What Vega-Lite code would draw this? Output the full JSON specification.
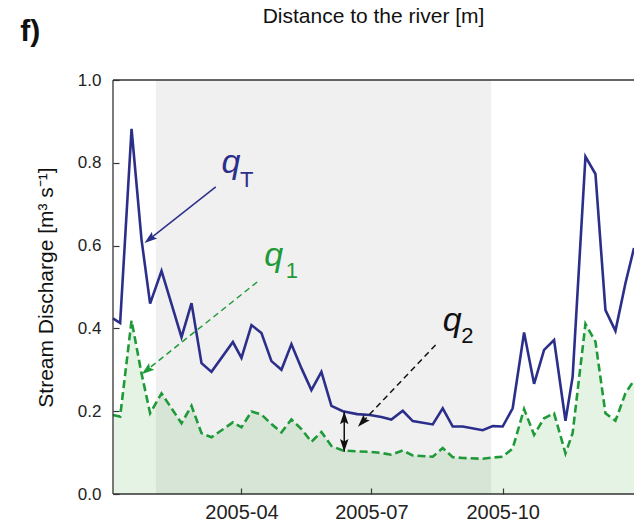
{
"$schema":"https://vega.github.io/schema/vega-lite/v6.json",
"width":521,"height":414,
"autosize":{"type":"none"},
"padding":{"left":113,"top":80,"right":0,"bottom":29},
"background":"white",
"title":{"text":"Distance to the river [m]","anchor":"middle","frame":"group","offset":-10,"fontSize":21,"fontWeight":"normal","font":"Liberation Sans","color":"#111111"},
"config":{"view":{"stroke":null},"axis":{"labelFont":"Liberation Sans","titleFont":"Liberation Sans","labelColor":"#222222","titleColor":"#111111","domain":false,"tickColor":"#333333","grid":false,"titleFontWeight":"normal","tickWidth":1.2}},
"datasets":{
"q":[
{"date":"2005-01-01","series":"qT","v":0.424},{"date":"2005-01-06","series":"qT","v":0.413},{"date":"2005-01-14","series":"qT","v":0.882},{"date":"2005-01-21","series":"qT","v":0.614},
{"date":"2005-01-27","series":"qT","v":0.460},{"date":"2005-02-04","series":"qT","v":0.539},{"date":"2005-02-18","series":"qT","v":0.379},{"date":"2005-02-25","series":"qT","v":0.461},
{"date":"2005-03-04","series":"qT","v":0.316},{"date":"2005-03-11","series":"qT","v":0.295},{"date":"2005-03-26","series":"qT","v":0.367},{"date":"2005-04-01","series":"qT","v":0.329},
{"date":"2005-04-08","series":"qT","v":0.408},{"date":"2005-04-15","series":"qT","v":0.389},{"date":"2005-04-22","series":"qT","v":0.321},{"date":"2005-04-29","series":"qT","v":0.300},
{"date":"2005-05-06","series":"qT","v":0.362},{"date":"2005-05-13","series":"qT","v":0.304},{"date":"2005-05-20","series":"qT","v":0.251},{"date":"2005-05-27","series":"qT","v":0.295},
{"date":"2005-06-03","series":"qT","v":0.213},{"date":"2005-06-11","series":"qT","v":0.200},{"date":"2005-06-21","series":"qT","v":0.193},{"date":"2005-06-30","series":"qT","v":0.191},
{"date":"2005-07-08","series":"qT","v":0.186},{"date":"2005-07-15","series":"qT","v":0.180},{"date":"2005-07-23","series":"qT","v":0.201},{"date":"2005-07-30","series":"qT","v":0.176},
{"date":"2005-08-13","series":"qT","v":0.168},{"date":"2005-08-20","series":"qT","v":0.207},{"date":"2005-08-27","series":"qT","v":0.163},{"date":"2005-09-03","series":"qT","v":0.163},
{"date":"2005-09-17","series":"qT","v":0.154},{"date":"2005-09-24","series":"qT","v":0.164},{"date":"2005-10-01","series":"qT","v":0.163},{"date":"2005-10-08","series":"qT","v":0.207},
{"date":"2005-10-16","series":"qT","v":0.390},{"date":"2005-10-23","series":"qT","v":0.266},{"date":"2005-10-30","series":"qT","v":0.348},{"date":"2005-11-06","series":"qT","v":0.372},
{"date":"2005-11-14","series":"qT","v":0.177},{"date":"2005-11-19","series":"qT","v":0.283},{"date":"2005-11-28","series":"qT","v":0.815},{"date":"2005-12-05","series":"qT","v":0.773},
{"date":"2005-12-12","series":"qT","v":0.444},{"date":"2005-12-19","series":"qT","v":0.394},{"date":"2005-12-26","series":"qT","v":0.509},{"date":"2006-01-01","series":"qT","v":0.594},
{"date":"2005-01-01","series":"q1","v":0.191},{"date":"2005-01-06","series":"q1","v":0.187},{"date":"2005-01-14","series":"q1","v":0.419},{"date":"2005-01-21","series":"q1","v":0.291},
{"date":"2005-01-27","series":"q1","v":0.195},{"date":"2005-02-04","series":"q1","v":0.243},{"date":"2005-02-18","series":"q1","v":0.171},{"date":"2005-02-25","series":"q1","v":0.213},
{"date":"2005-03-04","series":"q1","v":0.147},{"date":"2005-03-11","series":"q1","v":0.137},{"date":"2005-03-26","series":"q1","v":0.173},{"date":"2005-04-01","series":"q1","v":0.161},
{"date":"2005-04-08","series":"q1","v":0.199},{"date":"2005-04-15","series":"q1","v":0.192},{"date":"2005-04-22","series":"q1","v":0.169},{"date":"2005-04-29","series":"q1","v":0.149},
{"date":"2005-05-06","series":"q1","v":0.180},{"date":"2005-05-13","series":"q1","v":0.157},{"date":"2005-05-20","series":"q1","v":0.126},{"date":"2005-05-27","series":"q1","v":0.150},
{"date":"2005-06-03","series":"q1","v":0.116},{"date":"2005-06-11","series":"q1","v":0.105},{"date":"2005-06-21","series":"q1","v":0.103},{"date":"2005-06-30","series":"q1","v":0.102},
{"date":"2005-07-08","series":"q1","v":0.099},{"date":"2005-07-15","series":"q1","v":0.095},{"date":"2005-07-23","series":"q1","v":0.105},{"date":"2005-07-30","series":"q1","v":0.093},
{"date":"2005-08-13","series":"q1","v":0.090},{"date":"2005-08-20","series":"q1","v":0.111},{"date":"2005-08-27","series":"q1","v":0.089},{"date":"2005-09-03","series":"q1","v":0.087},
{"date":"2005-09-17","series":"q1","v":0.085},{"date":"2005-09-24","series":"q1","v":0.088},{"date":"2005-10-01","series":"q1","v":0.090},{"date":"2005-10-08","series":"q1","v":0.110},
{"date":"2005-10-16","series":"q1","v":0.205},{"date":"2005-10-23","series":"q1","v":0.143},{"date":"2005-10-30","series":"q1","v":0.183},{"date":"2005-11-06","series":"q1","v":0.195},
{"date":"2005-11-14","series":"q1","v":0.098},{"date":"2005-11-19","series":"q1","v":0.147},{"date":"2005-11-28","series":"q1","v":0.411},{"date":"2005-12-05","series":"q1","v":0.368},
{"date":"2005-12-12","series":"q1","v":0.195},{"date":"2005-12-19","series":"q1","v":0.177},{"date":"2005-12-26","series":"q1","v":0.243},{"date":"2006-01-01","series":"q1","v":0.275}
],
"band":[{"date":"2005-01-31","date2":"2005-09-23","v":0,"v2":1}],
"frame":[{"date":"2005-01-01","date2":"2006-01-01","v":1,"v2":1},{"date":"2005-01-01","date2":"2006-01-01","v":0,"v2":0},{"date":"2005-01-01","date2":"2005-01-01","v":0,"v2":1}],
"panel":[{"label":"f)","date":"2004-10-28","v":1.094}],
"arrowsSolid":[{"series":"qT","date":"2005-03-14","v":0.742,"date2":"2005-01-27","v2":0.617}],
"arrowsDashed":[{"series":"q1","date":"2005-04-12","v":0.512,"date2":"2005-01-25","v2":0.300},{"series":"q2","date":"2005-08-15","v":0.360,"date2":"2005-06-25","v2":0.175}],
"heads232":[{"series":"qT","date":"2005-01-27","v":0.617},{"series":"q1","date":"2005-01-25","v":0.300}],
"heads223":[{"series":"q2","date":"2005-06-25","v":0.175}],
"dbl":[{"date":"2005-06-12","v":0.199,"v2":0.102}],
"headUp":[{"date":"2005-06-12","v":0.182}],
"headDown":[{"date":"2005-06-12","v":0.119}],
"annQ":[{"series":"qT","date":"2005-03-18","v":0.775},{"series":"q1","date":"2005-04-17","v":0.551},{"series":"q2","date":"2005-08-20","v":0.394}],
"annSub":[{"series":"qT","text":"T","date":"2005-03-31","v":0.742},{"series":"q1","text":"1","date":"2005-05-02","v":0.522},{"series":"q2","text":"2","date":"2005-09-02","v":0.365}]
},
"encoding":{
 "x":{"field":"date","type":"temporal","scale":{"type":"utc","domain":[{"year":2005,"month":1,"date":1,"utc":true},{"year":2006,"month":1,"date":1,"utc":true}]},
      "axis":{"title":null,"format":"%Y-%m","values":[{"year":2005,"month":4,"date":1,"utc":true},{"year":2005,"month":7,"date":1,"utc":true},{"year":2005,"month":10,"date":1,"utc":true}],"offset":-6,"tickSize":6,"labelPadding":8,"labelFontSize":20}},
 "y":{"field":"v","type":"quantitative","scale":{"domain":[0,1]},
      "axis":{"title":"Stream Discharge [m³ s⁻¹]","titleFontSize":21,"labelFontSize":17,"values":[0,0.2,0.4,0.6,0.8,1.0],"format":".1f","offset":-6,"tickSize":6,"labelPadding":12,"titlePadding":21}}
},
"layer":[
{"data":{"name":"band"},"mark":{"type":"rect","color":"#000000","opacity":0.06},
 "encoding":{"x2":{"field":"date2"},"y2":{"field":"v2"}}},
{"data":{"name":"q"},"transform":[{"filter":"datum.series === 'q1'"}],"mark":{"type":"area","color":"#2ca02c","opacity":0.12}},
{"data":{"name":"q"},"transform":[{"filter":"datum.series === 'qT'"}],"mark":{"type":"line","color":"#2c2f8a","strokeWidth":2.6}},
{"data":{"name":"q"},"transform":[{"filter":"datum.series === 'q1'"}],"mark":{"type":"line","color":"#1f9a38","strokeWidth":2.6,"strokeDash":[8,4]}},
{"data":{"name":"frame"},"mark":{"type":"rule","color":"#333333","strokeWidth":1.3},
 "encoding":{"x2":{"field":"date2"},"y2":{"field":"v2"}}},
{"data":{"name":"panel"},"mark":{"type":"text","font":"Liberation Sans","fontSize":30,"fontWeight":"bold","align":"left","baseline":"alphabetic","color":"#111111"},
 "encoding":{"text":{"field":"label"}}},
{"data":{"name":"arrowsSolid"},"mark":{"type":"rule","strokeWidth":1.5},
 "encoding":{"x2":{"field":"date2"},"y2":{"field":"v2"},
  "color":{"field":"series","type":"nominal","scale":{"domain":["qT","q1","q2"],"range":["#2c2f8a","#1f9a38","#111111"]},"legend":null}}},
{"data":{"name":"arrowsDashed"},"mark":{"type":"rule","strokeWidth":1.5,"strokeDash":[6,4]},
 "encoding":{"x2":{"field":"date2"},"y2":{"field":"v2"},"color":{"field":"series","type":"nominal","legend":null}}},
{"data":{"name":"heads232"},"mark":{"type":"point","shape":"M0,-1L0.6,0.8L0,0.45L-0.6,0.8Z","filled":true,"opacity":1,"size":200,"angle":232},
 "encoding":{"color":{"field":"series","type":"nominal","legend":null}}},
{"data":{"name":"heads223"},"mark":{"type":"point","shape":"M0,-1L0.6,0.8L0,0.45L-0.6,0.8Z","filled":true,"opacity":1,"size":200,"angle":223.5},
 "encoding":{"color":{"field":"series","type":"nominal","legend":null}}},
{"data":{"name":"dbl"},"mark":{"type":"rule","strokeWidth":1.5,"color":"#111111"},
 "encoding":{"y2":{"field":"v2"}}},
{"data":{"name":"headUp"},"mark":{"type":"point","shape":"M0,-1L0.6,0.8L0,0.45L-0.6,0.8Z","filled":true,"opacity":1,"size":200,"angle":0,"color":"#111111"}},
{"data":{"name":"headDown"},"mark":{"type":"point","shape":"M0,-1L0.6,0.8L0,0.45L-0.6,0.8Z","filled":true,"opacity":1,"size":200,"angle":180,"color":"#111111"}},
{"data":{"name":"annQ"},"mark":{"type":"text","text":"q","font":"Liberation Sans","fontStyle":"italic","fontSize":34,"align":"left","baseline":"alphabetic"},
 "encoding":{"color":{"field":"series","type":"nominal","legend":null}}},
{"data":{"name":"annSub"},"mark":{"type":"text","font":"Liberation Sans","fontSize":22,"align":"left","baseline":"alphabetic"},
 "encoding":{"text":{"field":"text"},"color":{"field":"series","type":"nominal","legend":null}}}
]
}
